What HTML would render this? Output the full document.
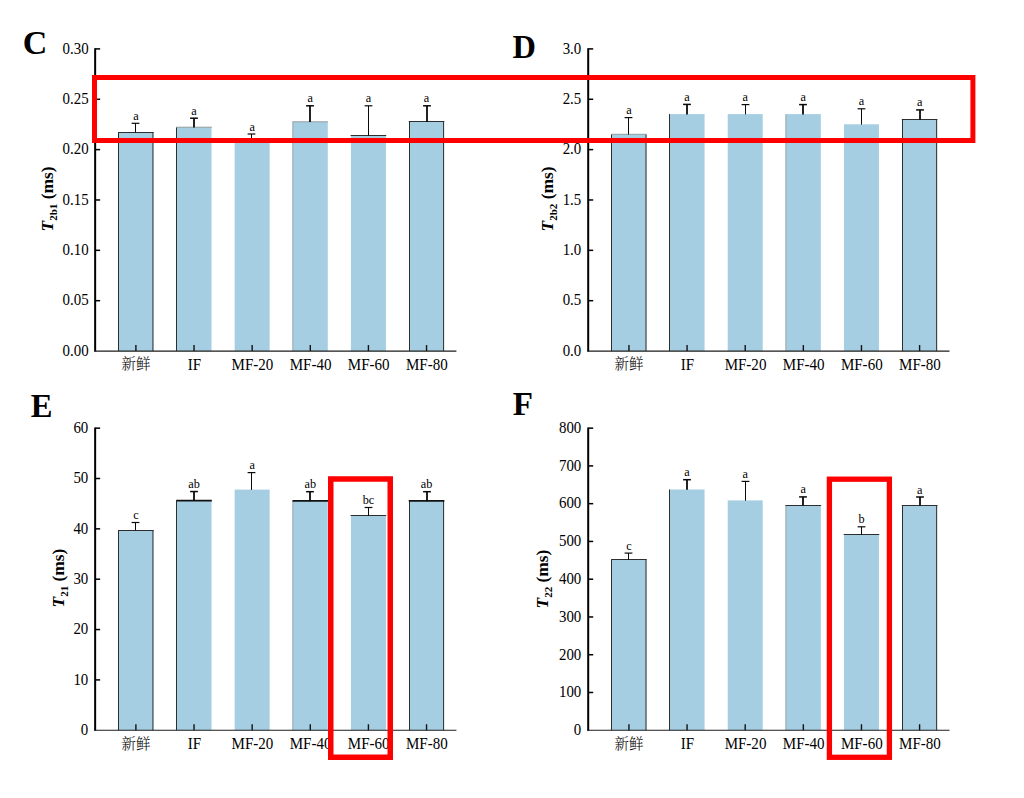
<!DOCTYPE html>
<html lang="zh">
<head>
<meta charset="utf-8">
<title>T2 relaxation times</title>
<style>
html,body{margin:0;padding:0;background:#fff;}
body{width:1024px;height:798px;overflow:hidden;}
svg{display:block;}
svg text{font-family:"Liberation Serif","Noto Serif CJK SC",serif;fill:#000;}
svg text.cj{font-family:"Noto Serif CJK SC","Liberation Serif",serif;font-weight:300;}
</style>
</head>
<body>
<svg width="1024" height="798" viewBox="0 0 1024 798">
<rect width="1024" height="798" fill="#fff"/>
<!-- Chart C -->
<rect x="118.40" y="132.25" width="35.00" height="218.80" fill="#a6cee3"/>
<line x1="118.50" y1="132.25" x2="118.50" y2="351.05" stroke="#2e2e2e" stroke-width="1"/>
<line x1="152.95" y1="132.25" x2="152.95" y2="351.05" stroke="#2e2e2e" stroke-width="1"/>
<line x1="118.10" y1="132.50" x2="153.70" y2="132.50" stroke="#2e2e2e" stroke-width="1.1"/>
<rect x="176.53" y="127.20" width="35.00" height="223.85" fill="#a6cee3"/>
<line x1="176.50" y1="127.20" x2="176.50" y2="351.05" stroke="#2e2e2e" stroke-width="1"/>
<line x1="176.23" y1="127.20" x2="211.83" y2="127.20" stroke="#8d9599" stroke-width="0.9"/>
<rect x="234.66" y="139.80" width="35.00" height="211.25" fill="#a6cee3"/>
<rect x="292.79" y="121.80" width="35.00" height="229.25" fill="#a6cee3"/>
<line x1="292.79" y1="121.80" x2="292.79" y2="351.05" stroke="#8d9599" stroke-width="0.8"/>
<line x1="292.49" y1="121.80" x2="328.09" y2="121.80" stroke="#8d9599" stroke-width="0.9"/>
<rect x="350.92" y="135.30" width="35.00" height="215.75" fill="#a6cee3"/>
<line x1="350.62" y1="135.50" x2="386.22" y2="135.50" stroke="#2e2e2e" stroke-width="1.1"/>
<rect x="409.05" y="121.80" width="35.00" height="229.25" fill="#a6cee3"/>
<line x1="409.50" y1="121.80" x2="409.50" y2="351.05" stroke="#2e2e2e" stroke-width="1"/>
<line x1="443.60" y1="121.80" x2="443.60" y2="351.05" stroke="#2e2e2e" stroke-width="1"/>
<line x1="408.75" y1="121.50" x2="444.35" y2="121.50" stroke="#2e2e2e" stroke-width="1.1"/>
<line x1="135.50" y1="132.55" x2="135.50" y2="123.30" stroke="#0a0a0a" stroke-width="1.0"/>
<line x1="131.60" y1="123.30" x2="139.40" y2="123.30" stroke="#0a0a0a" stroke-width="1.2"/>
<line x1="194.00" y1="127.50" x2="194.00" y2="118.20" stroke="#0a0a0a" stroke-width="1.8"/>
<line x1="190.10" y1="118.20" x2="197.90" y2="118.20" stroke="#0a0a0a" stroke-width="1.5"/>
<line x1="251.50" y1="140.10" x2="251.50" y2="134.00" stroke="#0a0a0a" stroke-width="1.0"/>
<line x1="247.60" y1="134.00" x2="255.40" y2="134.00" stroke="#0a0a0a" stroke-width="1.2"/>
<line x1="310.00" y1="122.10" x2="310.00" y2="105.80" stroke="#0a0a0a" stroke-width="1.8"/>
<line x1="306.10" y1="105.80" x2="313.90" y2="105.80" stroke="#0a0a0a" stroke-width="1.5"/>
<line x1="368.50" y1="135.60" x2="368.50" y2="105.80" stroke="#0a0a0a" stroke-width="1.0"/>
<line x1="364.60" y1="105.80" x2="372.40" y2="105.80" stroke="#0a0a0a" stroke-width="1.2"/>
<line x1="427.00" y1="122.10" x2="427.00" y2="105.80" stroke="#0a0a0a" stroke-width="1.8"/>
<line x1="423.10" y1="105.80" x2="430.90" y2="105.80" stroke="#0a0a0a" stroke-width="1.5"/>
<text transform="translate(135.90,119.80) scale(0.93,1)" font-size="13.2" text-anchor="middle">a</text>
<text transform="translate(194.03,114.70) scale(0.93,1)" font-size="13.2" text-anchor="middle">a</text>
<text transform="translate(252.16,130.50) scale(0.93,1)" font-size="13.2" text-anchor="middle">a</text>
<text transform="translate(310.29,102.30) scale(0.93,1)" font-size="13.2" text-anchor="middle">a</text>
<text transform="translate(368.42,102.30) scale(0.93,1)" font-size="13.2" text-anchor="middle">a</text>
<text transform="translate(426.55,102.30) scale(0.93,1)" font-size="13.2" text-anchor="middle">a</text>
<line x1="95.15" y1="48.15" x2="95.15" y2="351.55" stroke="#000" stroke-width="2"/>
<line x1="94.15" y1="351.05" x2="456.40" y2="351.05" stroke="#1c1c1c" stroke-width="1.2"/>
<line x1="95.15" y1="48.90" x2="100.15" y2="48.90" stroke="#000" stroke-width="1.5"/>
<text transform="translate(88.60,53.70) scale(0.915,1)" font-size="16.3" text-anchor="end">0.30</text>
<line x1="95.15" y1="99.26" x2="100.15" y2="99.26" stroke="#000" stroke-width="1.5"/>
<text transform="translate(88.60,104.06) scale(0.915,1)" font-size="16.3" text-anchor="end">0.25</text>
<line x1="95.15" y1="149.62" x2="100.15" y2="149.62" stroke="#000" stroke-width="1.5"/>
<text transform="translate(88.60,154.42) scale(0.915,1)" font-size="16.3" text-anchor="end">0.20</text>
<line x1="95.15" y1="199.98" x2="100.15" y2="199.98" stroke="#000" stroke-width="1.5"/>
<text transform="translate(88.60,204.78) scale(0.915,1)" font-size="16.3" text-anchor="end">0.15</text>
<line x1="95.15" y1="250.33" x2="100.15" y2="250.33" stroke="#000" stroke-width="1.5"/>
<text transform="translate(88.60,255.13) scale(0.915,1)" font-size="16.3" text-anchor="end">0.10</text>
<line x1="95.15" y1="300.69" x2="100.15" y2="300.69" stroke="#000" stroke-width="1.5"/>
<text transform="translate(88.60,305.49) scale(0.915,1)" font-size="16.3" text-anchor="end">0.05</text>
<text transform="translate(88.60,355.85) scale(0.915,1)" font-size="16.3" text-anchor="end">0.00</text>
<line x1="135.90" y1="351.05" x2="135.90" y2="345.05" stroke="#111" stroke-width="1.4"/>
<text x="135.90" y="369.40" font-size="14.5" text-anchor="middle" class="cj">新鲜</text>
<line x1="194.03" y1="351.05" x2="194.03" y2="345.05" stroke="#111" stroke-width="1.4"/>
<text transform="translate(194.33,369.90) scale(0.94,1)" font-size="16" text-anchor="middle">IF</text>
<line x1="252.16" y1="351.05" x2="252.16" y2="345.05" stroke="#111" stroke-width="1.4"/>
<text transform="translate(252.46,369.90) scale(0.94,1)" font-size="16" text-anchor="middle">MF-20</text>
<line x1="310.29" y1="351.05" x2="310.29" y2="345.05" stroke="#111" stroke-width="1.4"/>
<text transform="translate(310.59,369.90) scale(0.94,1)" font-size="16" text-anchor="middle">MF-40</text>
<line x1="368.42" y1="351.05" x2="368.42" y2="345.05" stroke="#111" stroke-width="1.4"/>
<text transform="translate(368.72,369.90) scale(0.94,1)" font-size="16" text-anchor="middle">MF-60</text>
<line x1="426.55" y1="351.05" x2="426.55" y2="345.05" stroke="#111" stroke-width="1.4"/>
<text transform="translate(426.85,369.90) scale(0.94,1)" font-size="16" text-anchor="middle">MF-80</text>
<text transform="translate(52.80,199.00) rotate(-90)" font-size="17.4" font-weight="bold" text-anchor="middle"><tspan font-style="italic">T</tspan><tspan font-size="11" dy="4">2b1</tspan><tspan dy="-4"> (ms)</tspan></text>
<!-- Chart D -->
<rect x="611.45" y="134.30" width="35.00" height="216.75" fill="#a6cee3"/>
<line x1="611.50" y1="134.30" x2="611.50" y2="351.05" stroke="#2e2e2e" stroke-width="1"/>
<line x1="646.00" y1="134.30" x2="646.00" y2="351.05" stroke="#2e2e2e" stroke-width="1"/>
<line x1="611.15" y1="134.30" x2="646.75" y2="134.30" stroke="#8d9599" stroke-width="0.9"/>
<rect x="669.58" y="114.10" width="35.00" height="236.95" fill="#a6cee3"/>
<line x1="669.50" y1="114.10" x2="669.50" y2="351.05" stroke="#2e2e2e" stroke-width="1"/>
<rect x="727.71" y="114.10" width="35.00" height="236.95" fill="#a6cee3"/>
<rect x="785.84" y="114.10" width="35.00" height="236.95" fill="#a6cee3"/>
<line x1="785.84" y1="114.10" x2="785.84" y2="351.05" stroke="#8d9599" stroke-width="0.8"/>
<rect x="843.97" y="124.30" width="35.00" height="226.75" fill="#a6cee3"/>
<rect x="902.10" y="119.35" width="35.00" height="231.70" fill="#a6cee3"/>
<line x1="902.50" y1="119.35" x2="902.50" y2="351.05" stroke="#2e2e2e" stroke-width="1"/>
<line x1="936.65" y1="119.35" x2="936.65" y2="351.05" stroke="#2e2e2e" stroke-width="1"/>
<line x1="901.80" y1="119.50" x2="937.40" y2="119.50" stroke="#2e2e2e" stroke-width="1.1"/>
<line x1="628.50" y1="134.60" x2="628.50" y2="117.60" stroke="#0a0a0a" stroke-width="1.0"/>
<line x1="624.60" y1="117.60" x2="632.40" y2="117.60" stroke="#0a0a0a" stroke-width="1.2"/>
<line x1="687.00" y1="114.40" x2="687.00" y2="104.40" stroke="#0a0a0a" stroke-width="1.8"/>
<line x1="683.10" y1="104.40" x2="690.90" y2="104.40" stroke="#0a0a0a" stroke-width="1.5"/>
<line x1="745.50" y1="114.40" x2="745.50" y2="104.60" stroke="#0a0a0a" stroke-width="1.0"/>
<line x1="741.60" y1="104.60" x2="749.40" y2="104.60" stroke="#0a0a0a" stroke-width="1.2"/>
<line x1="803.00" y1="114.40" x2="803.00" y2="104.60" stroke="#0a0a0a" stroke-width="1.8"/>
<line x1="799.10" y1="104.60" x2="806.90" y2="104.60" stroke="#0a0a0a" stroke-width="1.5"/>
<line x1="861.50" y1="124.60" x2="861.50" y2="108.80" stroke="#0a0a0a" stroke-width="1.0"/>
<line x1="857.60" y1="108.80" x2="865.40" y2="108.80" stroke="#0a0a0a" stroke-width="1.2"/>
<line x1="920.00" y1="119.65" x2="920.00" y2="109.90" stroke="#0a0a0a" stroke-width="1.8"/>
<line x1="916.10" y1="109.90" x2="923.90" y2="109.90" stroke="#0a0a0a" stroke-width="1.5"/>
<text transform="translate(628.95,114.10) scale(0.93,1)" font-size="13.2" text-anchor="middle">a</text>
<text transform="translate(687.08,100.90) scale(0.93,1)" font-size="13.2" text-anchor="middle">a</text>
<text transform="translate(745.21,101.10) scale(0.93,1)" font-size="13.2" text-anchor="middle">a</text>
<text transform="translate(803.34,101.10) scale(0.93,1)" font-size="13.2" text-anchor="middle">a</text>
<text transform="translate(861.47,105.30) scale(0.93,1)" font-size="13.2" text-anchor="middle">a</text>
<text transform="translate(919.60,106.40) scale(0.93,1)" font-size="13.2" text-anchor="middle">a</text>
<line x1="588.20" y1="48.15" x2="588.20" y2="351.55" stroke="#000" stroke-width="2"/>
<line x1="587.20" y1="351.05" x2="949.50" y2="351.05" stroke="#1c1c1c" stroke-width="1.2"/>
<line x1="588.20" y1="48.90" x2="593.20" y2="48.90" stroke="#000" stroke-width="1.5"/>
<text transform="translate(581.30,53.70) scale(0.915,1)" font-size="16.3" text-anchor="end">3.0</text>
<line x1="588.20" y1="99.26" x2="593.20" y2="99.26" stroke="#000" stroke-width="1.5"/>
<text transform="translate(581.30,104.06) scale(0.915,1)" font-size="16.3" text-anchor="end">2.5</text>
<line x1="588.20" y1="149.62" x2="593.20" y2="149.62" stroke="#000" stroke-width="1.5"/>
<text transform="translate(581.30,154.42) scale(0.915,1)" font-size="16.3" text-anchor="end">2.0</text>
<line x1="588.20" y1="199.98" x2="593.20" y2="199.98" stroke="#000" stroke-width="1.5"/>
<text transform="translate(581.30,204.78) scale(0.915,1)" font-size="16.3" text-anchor="end">1.5</text>
<line x1="588.20" y1="250.33" x2="593.20" y2="250.33" stroke="#000" stroke-width="1.5"/>
<text transform="translate(581.30,255.13) scale(0.915,1)" font-size="16.3" text-anchor="end">1.0</text>
<line x1="588.20" y1="300.69" x2="593.20" y2="300.69" stroke="#000" stroke-width="1.5"/>
<text transform="translate(581.30,305.49) scale(0.915,1)" font-size="16.3" text-anchor="end">0.5</text>
<text transform="translate(581.30,355.85) scale(0.915,1)" font-size="16.3" text-anchor="end">0.0</text>
<line x1="628.95" y1="351.05" x2="628.95" y2="345.05" stroke="#111" stroke-width="1.4"/>
<text x="628.95" y="369.40" font-size="14.5" text-anchor="middle" class="cj">新鲜</text>
<line x1="687.08" y1="351.05" x2="687.08" y2="345.05" stroke="#111" stroke-width="1.4"/>
<text transform="translate(687.38,369.90) scale(0.94,1)" font-size="16" text-anchor="middle">IF</text>
<line x1="745.21" y1="351.05" x2="745.21" y2="345.05" stroke="#111" stroke-width="1.4"/>
<text transform="translate(745.51,369.90) scale(0.94,1)" font-size="16" text-anchor="middle">MF-20</text>
<line x1="803.34" y1="351.05" x2="803.34" y2="345.05" stroke="#111" stroke-width="1.4"/>
<text transform="translate(803.64,369.90) scale(0.94,1)" font-size="16" text-anchor="middle">MF-40</text>
<line x1="861.47" y1="351.05" x2="861.47" y2="345.05" stroke="#111" stroke-width="1.4"/>
<text transform="translate(861.77,369.90) scale(0.94,1)" font-size="16" text-anchor="middle">MF-60</text>
<line x1="919.60" y1="351.05" x2="919.60" y2="345.05" stroke="#111" stroke-width="1.4"/>
<text transform="translate(919.90,369.90) scale(0.94,1)" font-size="16" text-anchor="middle">MF-80</text>
<text transform="translate(552.50,199.00) rotate(-90)" font-size="17.4" font-weight="bold" text-anchor="middle"><tspan font-style="italic">T</tspan><tspan font-size="11" dy="4">2b2</tspan><tspan dy="-4"> (ms)</tspan></text>
<!-- Chart E -->
<rect x="118.40" y="530.20" width="35.00" height="200.05" fill="#a6cee3"/>
<line x1="118.50" y1="530.20" x2="118.50" y2="730.25" stroke="#2e2e2e" stroke-width="1"/>
<line x1="152.95" y1="530.20" x2="152.95" y2="730.25" stroke="#2e2e2e" stroke-width="1"/>
<line x1="118.10" y1="530.50" x2="153.70" y2="530.50" stroke="#2e2e2e" stroke-width="1.1"/>
<rect x="176.53" y="500.70" width="35.00" height="229.55" fill="#a6cee3"/>
<line x1="176.50" y1="500.70" x2="176.50" y2="730.25" stroke="#2e2e2e" stroke-width="1"/>
<line x1="176.23" y1="500.70" x2="211.83" y2="500.70" stroke="#111" stroke-width="1.7"/>
<rect x="234.66" y="489.60" width="35.00" height="240.65" fill="#a6cee3"/>
<rect x="292.79" y="500.85" width="35.00" height="229.40" fill="#a6cee3"/>
<line x1="292.79" y1="500.85" x2="292.79" y2="730.25" stroke="#8d9599" stroke-width="0.8"/>
<line x1="292.49" y1="500.85" x2="328.09" y2="500.85" stroke="#111" stroke-width="1.7"/>
<rect x="350.92" y="515.60" width="35.00" height="214.65" fill="#a6cee3"/>
<line x1="350.62" y1="515.50" x2="386.22" y2="515.50" stroke="#2e2e2e" stroke-width="1.1"/>
<rect x="409.05" y="500.85" width="35.00" height="229.40" fill="#a6cee3"/>
<line x1="409.50" y1="500.85" x2="409.50" y2="730.25" stroke="#2e2e2e" stroke-width="1"/>
<line x1="443.60" y1="500.85" x2="443.60" y2="730.25" stroke="#2e2e2e" stroke-width="1"/>
<line x1="408.75" y1="500.85" x2="444.35" y2="500.85" stroke="#111" stroke-width="1.7"/>
<line x1="135.50" y1="530.50" x2="135.50" y2="522.50" stroke="#0a0a0a" stroke-width="1.0"/>
<line x1="131.60" y1="522.50" x2="139.40" y2="522.50" stroke="#0a0a0a" stroke-width="1.2"/>
<line x1="194.00" y1="501.00" x2="194.00" y2="491.55" stroke="#0a0a0a" stroke-width="1.8"/>
<line x1="190.10" y1="491.55" x2="197.90" y2="491.55" stroke="#0a0a0a" stroke-width="1.5"/>
<line x1="251.50" y1="489.90" x2="251.50" y2="472.60" stroke="#0a0a0a" stroke-width="1.0"/>
<line x1="247.60" y1="472.60" x2="255.40" y2="472.60" stroke="#0a0a0a" stroke-width="1.2"/>
<line x1="310.00" y1="501.15" x2="310.00" y2="491.70" stroke="#0a0a0a" stroke-width="1.8"/>
<line x1="306.10" y1="491.70" x2="313.90" y2="491.70" stroke="#0a0a0a" stroke-width="1.5"/>
<line x1="368.50" y1="515.90" x2="368.50" y2="507.50" stroke="#0a0a0a" stroke-width="1.0"/>
<line x1="364.60" y1="507.50" x2="372.40" y2="507.50" stroke="#0a0a0a" stroke-width="1.2"/>
<line x1="427.00" y1="501.15" x2="427.00" y2="491.70" stroke="#0a0a0a" stroke-width="1.8"/>
<line x1="423.10" y1="491.70" x2="430.90" y2="491.70" stroke="#0a0a0a" stroke-width="1.5"/>
<text transform="translate(135.90,519.00) scale(0.93,1)" font-size="13.2" text-anchor="middle">c</text>
<text transform="translate(194.03,488.05) scale(0.93,1)" font-size="13.2" text-anchor="middle">ab</text>
<text transform="translate(252.16,469.10) scale(0.93,1)" font-size="13.2" text-anchor="middle">a</text>
<text transform="translate(310.29,488.20) scale(0.93,1)" font-size="13.2" text-anchor="middle">ab</text>
<text transform="translate(368.42,504.00) scale(0.93,1)" font-size="13.2" text-anchor="middle">bc</text>
<text transform="translate(426.55,488.20) scale(0.93,1)" font-size="13.2" text-anchor="middle">ab</text>
<line x1="95.15" y1="427.40" x2="95.15" y2="730.75" stroke="#000" stroke-width="2"/>
<line x1="94.15" y1="730.25" x2="456.40" y2="730.25" stroke="#1c1c1c" stroke-width="1.2"/>
<line x1="95.15" y1="428.15" x2="100.15" y2="428.15" stroke="#000" stroke-width="1.5"/>
<text transform="translate(88.30,432.95) scale(0.915,1)" font-size="16.3" text-anchor="end">60</text>
<line x1="95.15" y1="478.50" x2="100.15" y2="478.50" stroke="#000" stroke-width="1.5"/>
<text transform="translate(88.30,483.30) scale(0.915,1)" font-size="16.3" text-anchor="end">50</text>
<line x1="95.15" y1="528.85" x2="100.15" y2="528.85" stroke="#000" stroke-width="1.5"/>
<text transform="translate(88.30,533.65) scale(0.915,1)" font-size="16.3" text-anchor="end">40</text>
<line x1="95.15" y1="579.20" x2="100.15" y2="579.20" stroke="#000" stroke-width="1.5"/>
<text transform="translate(88.30,584.00) scale(0.915,1)" font-size="16.3" text-anchor="end">30</text>
<line x1="95.15" y1="629.55" x2="100.15" y2="629.55" stroke="#000" stroke-width="1.5"/>
<text transform="translate(88.30,634.35) scale(0.915,1)" font-size="16.3" text-anchor="end">20</text>
<line x1="95.15" y1="679.90" x2="100.15" y2="679.90" stroke="#000" stroke-width="1.5"/>
<text transform="translate(88.30,684.70) scale(0.915,1)" font-size="16.3" text-anchor="end">10</text>
<text transform="translate(88.30,735.05) scale(0.915,1)" font-size="16.3" text-anchor="end">0</text>
<line x1="135.90" y1="730.25" x2="135.90" y2="724.25" stroke="#111" stroke-width="1.4"/>
<text x="135.90" y="748.60" font-size="14.5" text-anchor="middle" class="cj">新鲜</text>
<line x1="194.03" y1="730.25" x2="194.03" y2="724.25" stroke="#111" stroke-width="1.4"/>
<text transform="translate(194.33,749.10) scale(0.94,1)" font-size="16" text-anchor="middle">IF</text>
<line x1="252.16" y1="730.25" x2="252.16" y2="724.25" stroke="#111" stroke-width="1.4"/>
<text transform="translate(252.46,749.10) scale(0.94,1)" font-size="16" text-anchor="middle">MF-20</text>
<line x1="310.29" y1="730.25" x2="310.29" y2="724.25" stroke="#111" stroke-width="1.4"/>
<text transform="translate(310.59,749.10) scale(0.94,1)" font-size="16" text-anchor="middle">MF-40</text>
<line x1="368.42" y1="730.25" x2="368.42" y2="724.25" stroke="#111" stroke-width="1.4"/>
<text transform="translate(368.72,749.10) scale(0.94,1)" font-size="16" text-anchor="middle">MF-60</text>
<line x1="426.55" y1="730.25" x2="426.55" y2="724.25" stroke="#111" stroke-width="1.4"/>
<text transform="translate(426.85,749.10) scale(0.94,1)" font-size="16" text-anchor="middle">MF-80</text>
<text transform="translate(63.50,578.00) rotate(-90)" font-size="17.4" font-weight="bold" text-anchor="middle"><tspan font-style="italic">T</tspan><tspan font-size="11" dy="4">21</tspan><tspan dy="-4"> (ms)</tspan></text>
<!-- Chart F -->
<rect x="611.45" y="559.65" width="35.00" height="170.60" fill="#a6cee3"/>
<line x1="611.50" y1="559.65" x2="611.50" y2="730.25" stroke="#2e2e2e" stroke-width="1"/>
<line x1="646.00" y1="559.65" x2="646.00" y2="730.25" stroke="#2e2e2e" stroke-width="1"/>
<line x1="611.15" y1="559.50" x2="646.75" y2="559.50" stroke="#2e2e2e" stroke-width="1.1"/>
<rect x="669.58" y="489.50" width="35.00" height="240.75" fill="#a6cee3"/>
<line x1="669.50" y1="489.50" x2="669.50" y2="730.25" stroke="#2e2e2e" stroke-width="1"/>
<rect x="727.71" y="500.40" width="35.00" height="229.85" fill="#a6cee3"/>
<rect x="785.84" y="505.30" width="35.00" height="224.95" fill="#a6cee3"/>
<line x1="785.84" y1="505.30" x2="785.84" y2="730.25" stroke="#8d9599" stroke-width="0.8"/>
<line x1="785.54" y1="505.50" x2="821.14" y2="505.50" stroke="#2e2e2e" stroke-width="1.1"/>
<rect x="843.97" y="534.50" width="35.00" height="195.75" fill="#a6cee3"/>
<line x1="843.67" y1="534.50" x2="879.27" y2="534.50" stroke="#2e2e2e" stroke-width="1.1"/>
<rect x="902.10" y="505.30" width="35.00" height="224.95" fill="#a6cee3"/>
<line x1="902.50" y1="505.30" x2="902.50" y2="730.25" stroke="#2e2e2e" stroke-width="1"/>
<line x1="936.65" y1="505.30" x2="936.65" y2="730.25" stroke="#2e2e2e" stroke-width="1"/>
<line x1="901.80" y1="505.50" x2="937.40" y2="505.50" stroke="#2e2e2e" stroke-width="1.1"/>
<line x1="628.50" y1="559.95" x2="628.50" y2="553.10" stroke="#0a0a0a" stroke-width="1.0"/>
<line x1="624.60" y1="553.10" x2="632.40" y2="553.10" stroke="#0a0a0a" stroke-width="1.2"/>
<line x1="687.00" y1="489.80" x2="687.00" y2="479.70" stroke="#0a0a0a" stroke-width="1.8"/>
<line x1="683.10" y1="479.70" x2="690.90" y2="479.70" stroke="#0a0a0a" stroke-width="1.5"/>
<line x1="745.50" y1="500.70" x2="745.50" y2="481.40" stroke="#0a0a0a" stroke-width="1.0"/>
<line x1="741.60" y1="481.40" x2="749.40" y2="481.40" stroke="#0a0a0a" stroke-width="1.2"/>
<line x1="803.00" y1="505.60" x2="803.00" y2="496.90" stroke="#0a0a0a" stroke-width="1.8"/>
<line x1="799.10" y1="496.90" x2="806.90" y2="496.90" stroke="#0a0a0a" stroke-width="1.5"/>
<line x1="861.50" y1="534.80" x2="861.50" y2="526.80" stroke="#0a0a0a" stroke-width="1.0"/>
<line x1="857.60" y1="526.80" x2="865.40" y2="526.80" stroke="#0a0a0a" stroke-width="1.2"/>
<line x1="920.00" y1="505.60" x2="920.00" y2="497.00" stroke="#0a0a0a" stroke-width="1.8"/>
<line x1="916.10" y1="497.00" x2="923.90" y2="497.00" stroke="#0a0a0a" stroke-width="1.5"/>
<text transform="translate(628.95,549.60) scale(0.93,1)" font-size="13.2" text-anchor="middle">c</text>
<text transform="translate(687.08,476.20) scale(0.93,1)" font-size="13.2" text-anchor="middle">a</text>
<text transform="translate(745.21,477.90) scale(0.93,1)" font-size="13.2" text-anchor="middle">a</text>
<text transform="translate(803.34,493.40) scale(0.93,1)" font-size="13.2" text-anchor="middle">a</text>
<text transform="translate(861.47,523.30) scale(0.93,1)" font-size="13.2" text-anchor="middle">b</text>
<text transform="translate(919.60,493.50) scale(0.93,1)" font-size="13.2" text-anchor="middle">a</text>
<line x1="588.20" y1="427.40" x2="588.20" y2="730.75" stroke="#000" stroke-width="2"/>
<line x1="587.20" y1="730.25" x2="949.50" y2="730.25" stroke="#1c1c1c" stroke-width="1.2"/>
<line x1="588.20" y1="428.15" x2="593.20" y2="428.15" stroke="#000" stroke-width="1.5"/>
<text transform="translate(581.30,432.95) scale(0.915,1)" font-size="16.3" text-anchor="end">800</text>
<line x1="588.20" y1="465.91" x2="593.20" y2="465.91" stroke="#000" stroke-width="1.5"/>
<text transform="translate(581.30,470.71) scale(0.915,1)" font-size="16.3" text-anchor="end">700</text>
<line x1="588.20" y1="503.67" x2="593.20" y2="503.67" stroke="#000" stroke-width="1.5"/>
<text transform="translate(581.30,508.47) scale(0.915,1)" font-size="16.3" text-anchor="end">600</text>
<line x1="588.20" y1="541.44" x2="593.20" y2="541.44" stroke="#000" stroke-width="1.5"/>
<text transform="translate(581.30,546.24) scale(0.915,1)" font-size="16.3" text-anchor="end">500</text>
<line x1="588.20" y1="579.20" x2="593.20" y2="579.20" stroke="#000" stroke-width="1.5"/>
<text transform="translate(581.30,584.00) scale(0.915,1)" font-size="16.3" text-anchor="end">400</text>
<line x1="588.20" y1="616.96" x2="593.20" y2="616.96" stroke="#000" stroke-width="1.5"/>
<text transform="translate(581.30,621.76) scale(0.915,1)" font-size="16.3" text-anchor="end">300</text>
<line x1="588.20" y1="654.73" x2="593.20" y2="654.73" stroke="#000" stroke-width="1.5"/>
<text transform="translate(581.30,659.52) scale(0.915,1)" font-size="16.3" text-anchor="end">200</text>
<line x1="588.20" y1="692.49" x2="593.20" y2="692.49" stroke="#000" stroke-width="1.5"/>
<text transform="translate(581.30,697.29) scale(0.915,1)" font-size="16.3" text-anchor="end">100</text>
<text transform="translate(581.30,735.05) scale(0.915,1)" font-size="16.3" text-anchor="end">0</text>
<line x1="628.95" y1="730.25" x2="628.95" y2="724.25" stroke="#111" stroke-width="1.4"/>
<text x="628.95" y="748.60" font-size="14.5" text-anchor="middle" class="cj">新鲜</text>
<line x1="687.08" y1="730.25" x2="687.08" y2="724.25" stroke="#111" stroke-width="1.4"/>
<text transform="translate(687.38,749.10) scale(0.94,1)" font-size="16" text-anchor="middle">IF</text>
<line x1="745.21" y1="730.25" x2="745.21" y2="724.25" stroke="#111" stroke-width="1.4"/>
<text transform="translate(745.51,749.10) scale(0.94,1)" font-size="16" text-anchor="middle">MF-20</text>
<line x1="803.34" y1="730.25" x2="803.34" y2="724.25" stroke="#111" stroke-width="1.4"/>
<text transform="translate(803.64,749.10) scale(0.94,1)" font-size="16" text-anchor="middle">MF-40</text>
<line x1="861.47" y1="730.25" x2="861.47" y2="724.25" stroke="#111" stroke-width="1.4"/>
<text transform="translate(861.77,749.10) scale(0.94,1)" font-size="16" text-anchor="middle">MF-60</text>
<line x1="919.60" y1="730.25" x2="919.60" y2="724.25" stroke="#111" stroke-width="1.4"/>
<text transform="translate(919.90,749.10) scale(0.94,1)" font-size="16" text-anchor="middle">MF-80</text>
<text transform="translate(548.30,579.00) rotate(-90)" font-size="17.4" font-weight="bold" text-anchor="middle"><tspan font-style="italic">T</tspan><tspan font-size="11" dy="4">22</tspan><tspan dy="-4"> (ms)</tspan></text>
<!-- panel letters -->
<text transform="translate(22.7,54.3) scale(1.0,1)" font-size="34" font-weight="bold">C</text>
<text transform="translate(512.6,57.9) scale(0.975,1)" font-size="33.3" font-weight="bold">D</text>
<text transform="translate(30.8,417.1) scale(0.96,1)" font-size="34.0" font-weight="bold">E</text>
<text transform="translate(512.7,415.3) scale(0.97,1)" font-size="34.2" font-weight="bold">F</text>
<!-- red highlight boxes -->
<rect x="94.5" y="77.5" width="878.4" height="63" fill="none" stroke="#fe0000" stroke-width="5"/>
<rect x="330.75" y="479" width="59.5" height="278.25" fill="none" stroke="#fe0000" stroke-width="5.5"/>
<rect x="829.4" y="479.2" width="60" height="278.1" fill="none" stroke="#fe0000" stroke-width="5.3"/>
</svg>
</body>
</html>
